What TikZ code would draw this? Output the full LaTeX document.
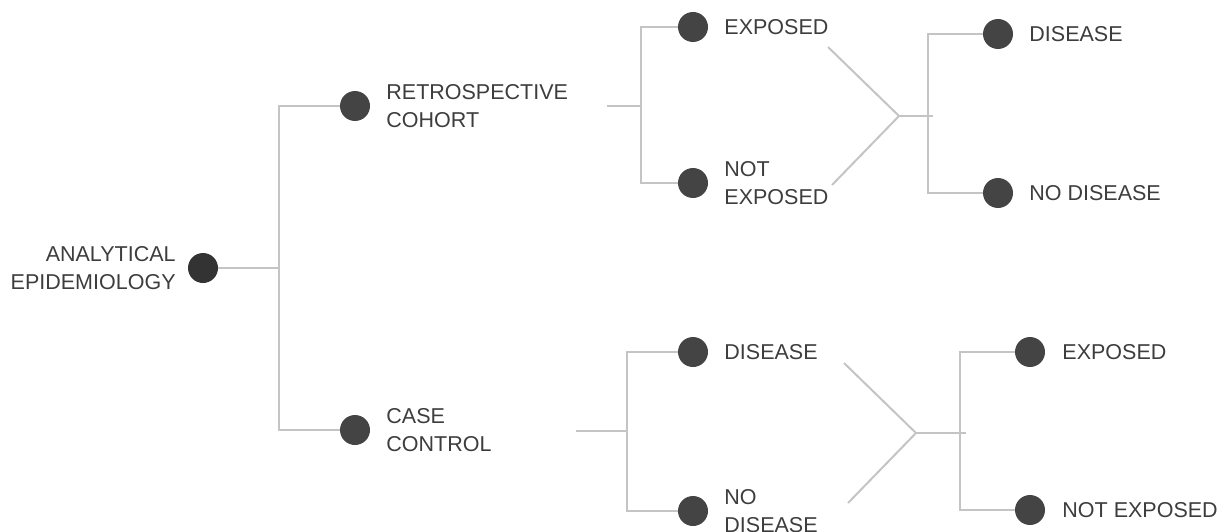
\documentclass[tikz,border=0pt]{standalone}
\usepackage{fontspec}
\setmainfont{Liberation Sans}
\usetikzlibrary{positioning}
\definecolor{linegray}{HTML}{C4C4C4}
\definecolor{dotgray}{HTML}{444444}
\definecolor{rootgray}{HTML}{333333}
\definecolor{textgray}{HTML}{3D3D3D}

\begin{document}
\begin{tikzpicture}[x=1pt, y=-1pt,
  dot/.style={circle, fill=dotgray, minimum size=30pt, inner sep=0pt},
  lbl/.style={inner sep=0pt, text=textgray, font=\fontsize{21.5}{27.5}\selectfont},
  link/.style={draw=linegray, line width=2pt}]
  \useasboundingbox (0,0) rectangle (1225,532); % page size of the reference

  % root and first split
  \node[dot, fill=rootgray] (root) at (203,268) {};
  \node[lbl, left=12pt of root, align=right] (rootlbl) {ANALYTICAL\\EPIDEMIOLOGY};
  \node[dot] (retro) at (355,106) {};
  \node[lbl, right=16pt of retro, align=left] (retrolbl) {RETROSPECTIVE\\COHORT};
  \node[dot] (case) at (355,430) {};
  \node[lbl, right=16pt of case, align=left] (caselbl) {CASE\\CONTROL};
  \coordinate (j0) at (279,268);
  \draw[link] (root) -- (j0);
  \draw[link] (retro) -| (j0) |- (case);

  % retrospective cohort
  \node[dot] (exp) at (693,27) {};
  \node[lbl, right=16pt of exp] (explbl) {EXPOSED};
  \node[dot] (nexp) at (693,183) {};
  \node[lbl, right=16pt of nexp, align=left] (nexplbl) {NOT\\EXPOSED};
  \coordinate (r0) at (607,106);
  \coordinate (r1) at (641,106);
  \draw[link] (r0) -- (r1);
  \draw[link] (exp) -| (r1) |- (nexp);

  \coordinate (ca) at (828,47);
  \coordinate (c1) at (899,116);
  \coordinate (cb) at (832,185);
  \coordinate (ce) at (933,116);
  \draw[link] (ca) -- (c1) -- (cb);
  \draw[link] (c1) -- (ce);

  \node[dot] (dis) at (998,34) {};
  \node[lbl, right=16pt of dis] (dislbl) {DISEASE};
  \node[dot] (nodis) at (998,193) {};
  \node[lbl, right=16pt of nodis] (nodislbl) {NO DISEASE};
  \coordinate (k1) at (928,116);
  \draw[link] (dis) -| (k1) |- (nodis);

  % case control
  \node[dot] (cdis) at (693,352) {};
  \node[lbl, right=16pt of cdis] (cdislbl) {DISEASE};
  \node[dot] (cnodis) at (693,511) {};
  \node[lbl, right=16pt of cnodis, align=left] (cnodislbl) {NO\\DISEASE};
  \coordinate (s0) at (576,431);
  \coordinate (s1) at (627,431);
  \draw[link] (s0) -- (s1);
  \draw[link] (cdis) -| (s1) |- (cnodis);

  \coordinate (da) at (844,363);
  \coordinate (d1) at (916,433);
  \coordinate (db) at (848,503);
  \coordinate (de) at (966,433);
  \draw[link] (da) -- (d1) -- (db);
  \draw[link] (d1) -- (de);

  \node[dot] (cexp) at (1030,352) {};
  \node[lbl, right=17pt of cexp] (cexplbl) {EXPOSED};
  \node[dot] (cnexp) at (1030,510) {};
  \node[lbl, right=17pt of cnexp] (cnexplbl) {NOT EXPOSED};
  \coordinate (k2) at (960,433);
  \draw[link] (cexp) -| (k2) |- (cnexp);
\end{tikzpicture}
\end{document}
